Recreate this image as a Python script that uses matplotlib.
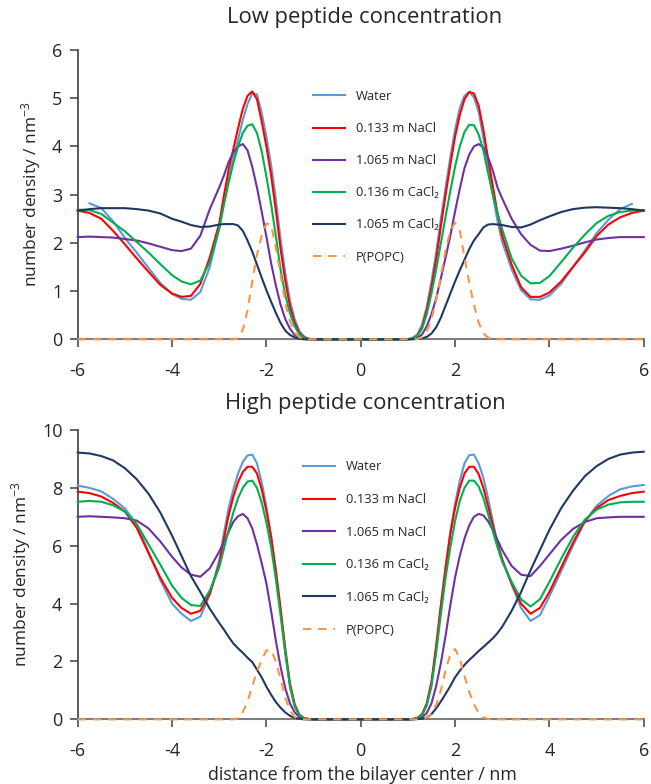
import numpy as np
import matplotlib
matplotlib.use("Agg")
import matplotlib.pyplot as plt

plt.rcParams['font.family'] = ['Open Sans', 'DejaVu Sans']
plt.rcParams['mathtext.default'] = 'regular'

nan = np.nan
# shared x grid (nm)
x_left_coarse = [-6.0, -5.75, -5.5, -5.25, -5.0, -4.75, -4.5, -4.25]
x_left_mid = [-4.0, -3.8, -3.6, -3.4, -3.2]
x_left_fine = [-3.0, -2.9, -2.8, -2.7, -2.6, -2.5, -2.4, -2.3, -2.2, -2.1, -2.0,
               -1.9, -1.8, -1.7, -1.6, -1.5, -1.4, -1.3, -1.2, -1.1, -1.0]
x_center = [0.0]
x_right_fine = [1.0, 1.1, 1.2, 1.3, 1.4, 1.5, 1.6, 1.7, 1.8, 1.9, 2.0,
                2.1, 2.2, 2.3, 2.4, 2.5, 2.6, 2.7, 2.8, 2.9, 3.0]
x_right_mid = [3.2, 3.4, 3.6, 3.8, 4.0]
x_right_coarse = [4.25, 4.5, 4.75, 5.0, 5.25, 5.5, 5.75, 6.0]
x_nm = (x_left_coarse + x_left_mid + x_left_fine + x_center +
        x_right_fine + x_right_mid + x_right_coarse)

labels = ['Water', '0.133 m NaCl', '1.065 m NaCl', '0.136 m CaCl\u2082', '1.065 m CaCl\u2082', 'P(POPC)']
colors = ['#5B9BD5', '#FF0000', '#7030A0', '#00B050', '#1F3864', '#F79646']
panel_titles = ['Low peptide concentration', 'High peptide concentration']
x_ticks = [-6, -4, -2, 0, 2, 4, 6]
y_ticks_low = [0, 1, 2, 3, 4, 5, 6]
y_ticks_high = [0, 2, 4, 6, 8, 10]

# ---------------- Low peptide concentration ----------------
low_water = ([nan, 2.82, 2.72, 2.45, 2.10, 1.80, 1.48, 1.17] +
             [0.94, 0.84, 0.82, 0.98, 1.50] +
             [2.30, 2.82, 3.32, 3.75, 4.15, 4.55, 4.88, 5.10, 5.08, 4.70, 4.20,
              3.62, 2.92, 2.08, 1.38, 0.80, 0.42, 0.17, 0.06, 0.01, 0.0] + [0.0] +
             [0.0, 0.03, 0.10, 0.30, 0.68, 1.20, 1.80, 2.50, 3.15, 3.78, 4.35,
              4.80, 5.05, 5.13, 5.02, 4.72, 4.18, 3.58, 3.00, 2.45, 2.02] +
             [1.45, 1.02, 0.83, 0.82, 0.91] +
             [1.15, 1.50, 1.84, 2.20, 2.48, 2.70, 2.81, nan])
low_nacl_low = ([2.67, 2.62, 2.50, 2.25, 1.97, 1.68, 1.40, 1.13] +
                [0.95, 0.88, 0.90, 1.15, 1.70] +
                [2.40, 2.98, 3.52, 3.95, 4.38, 4.78, 5.05, 5.14, 4.98, 4.52, 4.00,
                 3.40, 2.68, 1.88, 1.22, 0.68, 0.34, 0.13, 0.04, 0.01, 0.0] + [0.0] +
                [0.0, 0.02, 0.08, 0.25, 0.60, 1.08, 1.65, 2.35, 3.00, 3.62, 4.20,
                 4.65, 4.98, 5.13, 5.10, 4.85, 4.35, 3.75, 3.18, 2.62, 2.15] +
                [1.55, 1.08, 0.88, 0.88, 0.97] +
                [1.20, 1.50, 1.80, 2.14, 2.38, 2.53, 2.62, 2.67])
low_nacl_high = ([2.12, 2.13, 2.12, 2.11, 2.08, 2.05, 1.99, 1.92] +
                 [1.85, 1.83, 1.88, 2.15, 2.70] +
                 [3.15, 3.40, 3.68, 3.88, 4.00, 4.05, 3.92, 3.58, 3.15, 2.65, 2.13,
                  1.58, 1.12, 0.72, 0.42, 0.22, 0.09, 0.03, 0.01, 0.0, 0.0] + [0.0] +
                 [0.0, 0.01, 0.03, 0.10, 0.27, 0.52, 0.85, 1.27, 1.70, 2.15, 2.65,
                  3.12, 3.55, 3.83, 4.00, 4.05, 3.98, 3.78, 3.50, 3.15, 2.92] +
                 [2.50, 2.18, 1.96, 1.84, 1.83] +
                 [1.88, 1.94, 2.01, 2.07, 2.10, 2.12, 2.12, 2.12])
low_cacl_low = ([2.69, 2.68, 2.60, 2.42, 2.24, 2.02, 1.80, 1.56] +
                [1.33, 1.20, 1.14, 1.22, 1.60] +
                [2.30, 2.80, 3.25, 3.66, 4.00, 4.28, 4.43, 4.46, 4.28, 3.90, 3.38,
                 2.80, 2.15, 1.45, 0.92, 0.54, 0.27, 0.10, 0.03, 0.01, 0.0] + [0.0] +
                [0.0, 0.02, 0.07, 0.22, 0.52, 0.95, 1.45, 2.00, 2.55, 3.08, 3.58,
                 4.00, 4.30, 4.45, 4.44, 4.25, 3.92, 3.45, 3.00, 2.62, 2.28] +
                [1.68, 1.32, 1.16, 1.17, 1.31] +
                [1.60, 1.90, 2.17, 2.41, 2.56, 2.64, 2.67, 2.68])
low_cacl_high = ([2.67, 2.70, 2.72, 2.72, 2.72, 2.70, 2.67, 2.61] +
                 [2.50, 2.44, 2.37, 2.33, 2.34] +
                 [2.38, 2.39, 2.39, 2.39, 2.36, 2.25, 2.05, 1.82, 1.55, 1.28, 1.02,
                  0.78, 0.55, 0.34, 0.18, 0.09, 0.04, 0.01, 0.0, 0.0, 0.0] + [0.0] +
                 [0.0, 0.0, 0.01, 0.02, 0.05, 0.12, 0.25, 0.45, 0.70, 0.95, 1.20,
                  1.43, 1.65, 1.87, 2.05, 2.18, 2.32, 2.38, 2.39, 2.38, 2.37] +
                 [2.33, 2.32, 2.38, 2.47, 2.55] +
                 [2.64, 2.70, 2.73, 2.74, 2.73, 2.72, 2.70, 2.67])
low_popc = ([0.0] * 13 +
            [0.0, 0.0, 0.0, 0.0, 0.02, 0.20, 0.60, 1.20, 1.75, 2.15, 2.40,
             2.38, 1.90, 1.35, 0.76, 0.38, 0.14, 0.04, 0.01, 0.0, 0.0] + [0.0] +
            [0.0, 0.0, 0.01, 0.04, 0.16, 0.42, 0.82, 1.32, 1.85, 2.25, 2.42,
             2.25, 1.70, 1.18, 0.72, 0.35, 0.13, 0.03, 0.0, 0.0, 0.0] +
            [0.0] * 13)

# ---------------- High peptide concentration ----------------
high_water = ([8.08, 8.00, 7.88, 7.62, 7.29, 6.75, 5.80, 4.82] +
              [4.00, 3.65, 3.40, 3.55, 4.30] +
              [5.50, 6.45, 7.30, 7.95, 8.50, 8.90, 9.12, 9.15, 8.85, 8.20, 7.35,
               6.35, 5.10, 3.75, 2.30, 1.12, 0.45, 0.13, 0.03, 0.01, 0.0] + [0.0] +
              [0.0, 0.01, 0.04, 0.15, 0.50, 1.20, 2.45, 3.90, 5.25, 6.50, 7.45,
               8.25, 8.85, 9.13, 9.15, 8.85, 8.35, 7.65, 6.85, 6.10, 5.55] +
              [4.65, 3.85, 3.40, 3.60, 4.25] +
              [5.12, 6.00, 6.83, 7.38, 7.72, 7.95, 8.05, 8.10])
high_nacl_low = ([7.87, 7.82, 7.70, 7.48, 7.18, 6.62, 5.75, 4.90] +
                 [4.20, 3.85, 3.65, 3.75, 4.35] +
                 [5.35, 6.25, 7.05, 7.70, 8.20, 8.55, 8.73, 8.73, 8.50, 7.95, 7.20,
                  6.30, 5.15, 3.85, 2.45, 1.25, 0.52, 0.16, 0.04, 0.01, 0.0] + [0.0] +
                 [0.0, 0.01, 0.05, 0.18, 0.55, 1.30, 2.55, 3.95, 5.25, 6.40, 7.30,
                  8.00, 8.50, 8.73, 8.73, 8.48, 8.00, 7.38, 6.70, 6.05, 5.50] +
                 [4.70, 4.00, 3.65, 3.85, 4.40] +
                 [5.25, 6.10, 6.85, 7.30, 7.58, 7.72, 7.82, 7.87])
high_nacl_high = ([7.00, 7.02, 7.00, 6.98, 6.95, 6.87, 6.60, 6.15] +
                  [5.62, 5.25, 5.00, 4.93, 5.22] +
                  [5.80, 6.12, 6.48, 6.83, 7.02, 7.10, 6.95, 6.60, 6.05, 5.40, 4.70,
                   3.75, 2.72, 1.82, 1.08, 0.55, 0.24, 0.08, 0.02, 0.0, 0.0] + [0.0] +
                  [0.0, 0.0, 0.02, 0.07, 0.22, 0.55, 1.15, 1.95, 2.90, 3.95, 4.90,
                   5.65, 6.25, 6.70, 7.00, 7.10, 7.05, 6.85, 6.55, 6.20, 5.85] +
                  [5.30, 5.00, 4.95, 5.30, 5.70] +
                  [6.20, 6.58, 6.82, 6.95, 6.98, 7.00, 7.00, 7.00])
high_cacl_low = ([7.52, 7.55, 7.52, 7.40, 7.18, 6.75, 6.05, 5.35] +
                 [4.62, 4.20, 3.95, 3.92, 4.45] +
                 [5.25, 5.90, 6.55, 7.15, 7.65, 8.00, 8.22, 8.25, 8.00, 7.50, 6.80,
                  5.95, 4.85, 3.60, 2.30, 1.15, 0.45, 0.14, 0.03, 0.01, 0.0] + [0.0] +
                 [0.0, 0.01, 0.04, 0.15, 0.48, 1.15, 2.30, 3.65, 4.90, 5.95, 6.85,
                  7.55, 8.00, 8.25, 8.25, 8.05, 7.65, 7.10, 6.50, 5.95, 5.45] +
                 [4.75, 4.15, 3.90, 4.15, 4.75] +
                 [5.55, 6.30, 6.90, 7.25, 7.42, 7.50, 7.52, 7.52])
high_cacl_high = ([9.22, 9.19, 9.10, 8.95, 8.68, 8.30, 7.80, 7.15] +
                  [6.35, 5.65, 4.95, 4.40, 3.82] +
                  [3.33, 3.10, 2.85, 2.62, 2.45, 2.30, 2.13, 1.98, 1.72, 1.45, 1.13,
                   0.85, 0.60, 0.40, 0.24, 0.12, 0.05, 0.02, 0.0, 0.0, 0.0] + [0.0] +
                  [0.0, 0.0, 0.01, 0.02, 0.06, 0.18, 0.38, 0.62, 0.88, 1.15, 1.45,
                   1.68, 1.88, 2.05, 2.20, 2.36, 2.50, 2.65, 2.80, 2.98, 3.20] +
                  [3.75, 4.40, 5.15, 5.85, 6.55] +
                  [7.30, 7.90, 8.40, 8.75, 9.00, 9.15, 9.22, 9.25])
high_popc = ([0.0] * 13 +
             [0.0, 0.0, 0.0, 0.0, 0.03, 0.25, 0.62, 1.15, 1.65, 2.05, 2.38,
              2.40, 2.00, 1.40, 0.75, 0.30, 0.08, 0.02, 0.0, 0.0, 0.0] + [0.0] +
             [0.0, 0.0, 0.0, 0.01, 0.06, 0.20, 0.50, 1.00, 1.70, 2.25, 2.43,
              2.10, 1.50, 0.95, 0.52, 0.22, 0.07, 0.01, 0.0, 0.0, 0.0] +
             [0.0] * 13)

low_series = [low_water, low_nacl_low, low_nacl_high, low_cacl_low, low_cacl_high, low_popc]
high_series = [high_water, high_nacl_low, high_nacl_high, high_cacl_low, high_cacl_high, high_popc]

fig = plt.figure(figsize=(6.51, 7.84), dpi=100)
ax1 = fig.add_axes([0.1194, 0.5672, 0.8694, 0.369])
ax2 = fig.add_axes([0.1194, 0.0825, 0.8694, 0.369])

text_color = '#262626'


def draw(ax, series, ylim, yticks, leg_anchor, spacing):
    for i, (vals, lab, col) in enumerate(zip(series, labels, colors)):
        if i == 5:
            ax.plot(x_nm, vals, color=col, lw=1.5, ls=(0, (4, 3.3)), label=lab,
                    clip_on=False, zorder=5)
        else:
            ax.plot(x_nm, vals, color=col, lw=1.5, label=lab, clip_on=False, zorder=3 + i * 0.1)
    ax.set_xlim(-6, 6)
    ax.set_ylim(*ylim)
    ax.set_xticks(x_ticks)
    ax.set_xticklabels([str(t) for t in x_ticks])
    ax.set_yticks(yticks)
    ax.set_yticklabels([str(t) for t in yticks])
    for s in ['top', 'right']:
        ax.spines[s].set_visible(False)
    ax.spines['left'].set_color('#404040')
    ax.spines['left'].set_linewidth(1.2)
    ax.spines['bottom'].set_color('#7f7f7f')
    ax.spines['bottom'].set_linewidth(1.5)
    ax.tick_params(axis='x', direction='out', length=6, width=1.1, color='#404040',
                   labelsize=13, labelcolor=text_color, pad=10)
    ax.tick_params(axis='y', direction='out', length=6, width=1.1, color='#404040',
                   labelsize=13, labelcolor=text_color, pad=5)
    ax.set_ylabel('number density / nm$^{-3}$', fontsize=12.5, color=text_color)
    ax.legend(loc='upper left', bbox_to_anchor=leg_anchor, frameon=False, fontsize=9.3,
              handlelength=2.5, handletextpad=0.8, labelspacing=spacing,
              borderaxespad=0, borderpad=0, labelcolor=text_color)


draw(ax1, low_series, (0, 6), y_ticks_low, (0.416, 0.862), 1.48)
draw(ax2, high_series, (0, 10), y_ticks_high, (0.398, 0.895), 1.52)

ax1.yaxis.set_label_coords(-0.062, 0.5)
ax2.yaxis.set_label_coords(-0.079, 0.5)

fig.text(365 / 651, 1 - 18 / 784, panel_titles[0], ha='center', va='center',
         fontsize=15.8, color=text_color)
fig.text(365 / 651, 1 - 404 / 784, panel_titles[1], ha='center', va='center',
         fontsize=15.8, color=text_color)
fig.text(362 / 651, 1 - 775 / 784, 'distance from the bilayer center / nm', ha='center',
         va='center', fontsize=12.9, color=text_color)

fig.savefig('out.png', dpi=100)
